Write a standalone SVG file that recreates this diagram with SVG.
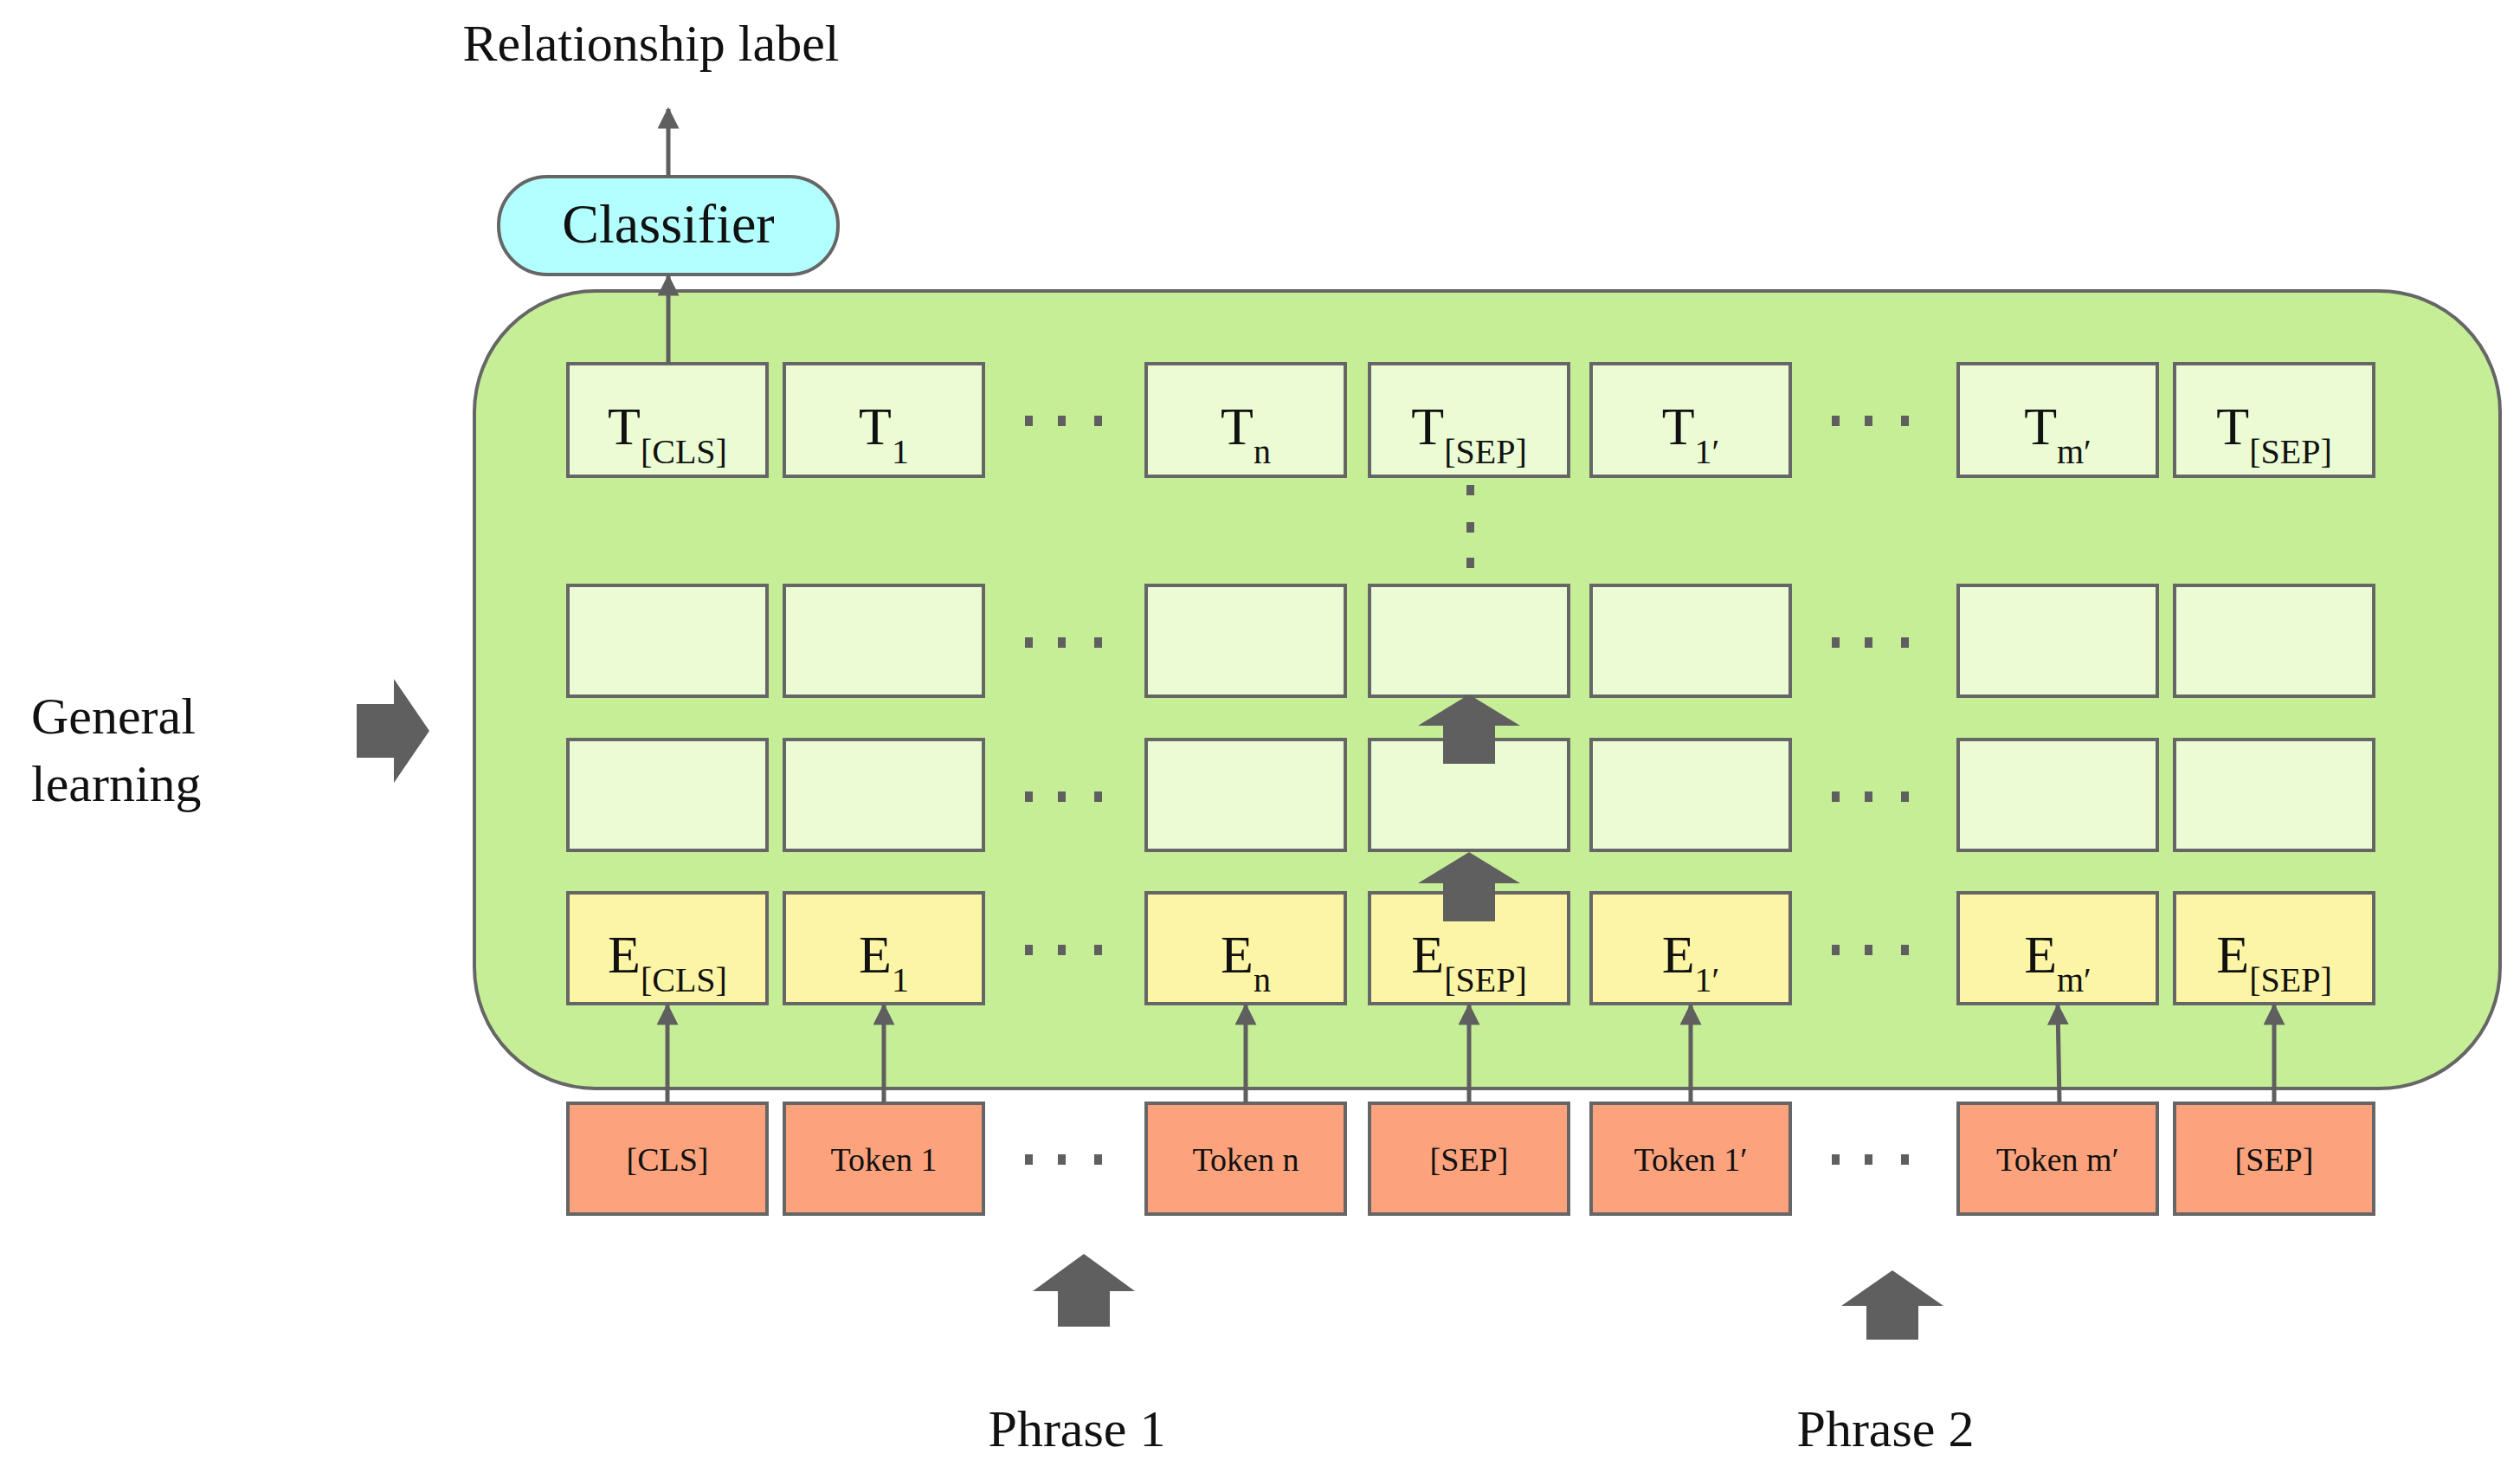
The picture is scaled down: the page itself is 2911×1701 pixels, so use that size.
<svg xmlns="http://www.w3.org/2000/svg" width="2911" height="1701" viewBox="0 0 2911 1701">
<defs>
<style>
.b{stroke:#666;stroke-width:4}
.t{fill:#ebfcd5}.e{fill:#fdf5a6}.k{fill:#fca37d}
text{font-family:"Liberation Serif",serif;fill:#111}
.lab{font-size:62px;text-anchor:middle}
.sub{font-size:40px}
.tok{font-size:38px;text-anchor:middle}
.big{font-size:60px}
.ln{stroke:#5f5f5f;stroke-width:5;fill:none}
.fat{fill:#5f5f5f}
.d{fill:#5f5f5f}
</style>
<marker id="ah" viewBox="0 0 10 10" refX="9" refY="5" markerWidth="5" markerHeight="5" orient="auto" markerUnits="strokeWidth"><path d="M0,0L10,5L0,10z" fill="#5f5f5f"/></marker>
</defs>
<rect width="2911" height="1701" fill="#fff"/>
<g id="encoder"><rect x="548" y="336" width="2340" height="921" rx="140" fill="#c6ee97" class="b"/></g>
<g id="classifier"><rect x="576" y="204" width="392" height="113" rx="56" fill="#b3ffff" class="b"/><text x="772" y="280" class="lab" style="font-size:64px">Classifier</text></g>
<g id="rowT">
<rect x="656" y="420" width="230" height="130" class="t b"/><text x="771" y="513" class="lab">T<tspan class="sub" dy="22">[CLS]</tspan></text>
<rect x="906" y="420" width="230" height="130" class="t b"/><text x="1021" y="513" class="lab">T<tspan class="sub" dy="22">1</tspan></text>
<rect x="1324" y="420" width="230" height="130" class="t b"/><text x="1439" y="513" class="lab">T<tspan class="sub" dy="22">n</tspan></text>
<rect x="1582" y="420" width="230" height="130" class="t b"/><text x="1697" y="513" class="lab">T<tspan class="sub" dy="22">[SEP]</tspan></text>
<rect x="1838" y="420" width="230" height="130" class="t b"/><text x="1953" y="513" class="lab">T<tspan class="sub" dy="22">1′</tspan></text>
<rect x="2262" y="420" width="230" height="130" class="t b"/><text x="2377" y="513" class="lab">T<tspan class="sub" dy="22">m′</tspan></text>
<rect x="2512" y="420" width="230" height="130" class="t b"/><text x="2627" y="513" class="lab">T<tspan class="sub" dy="22">[SEP]</tspan></text>
</g>
<g id="row2">
<rect x="656" y="676" width="230" height="128" class="t b"/><rect x="906" y="676" width="230" height="128" class="t b"/><rect x="1324" y="676" width="230" height="128" class="t b"/><rect x="1582" y="676" width="230" height="128" class="t b"/><rect x="1838" y="676" width="230" height="128" class="t b"/><rect x="2262" y="676" width="230" height="128" class="t b"/><rect x="2512" y="676" width="230" height="128" class="t b"/>
</g>
<g id="row3">
<rect x="656" y="854" width="230" height="128" class="t b"/><rect x="906" y="854" width="230" height="128" class="t b"/><rect x="1324" y="854" width="230" height="128" class="t b"/><rect x="1582" y="854" width="230" height="128" class="t b"/><rect x="1838" y="854" width="230" height="128" class="t b"/><rect x="2262" y="854" width="230" height="128" class="t b"/><rect x="2512" y="854" width="230" height="128" class="t b"/>
</g>
<g id="rowE">
<rect x="656" y="1031" width="230" height="128" class="e b"/><text x="771" y="1123" class="lab">E<tspan class="sub" dy="22">[CLS]</tspan></text>
<rect x="906" y="1031" width="230" height="128" class="e b"/><text x="1021" y="1123" class="lab">E<tspan class="sub" dy="22">1</tspan></text>
<rect x="1324" y="1031" width="230" height="128" class="e b"/><text x="1439" y="1123" class="lab">E<tspan class="sub" dy="22">n</tspan></text>
<rect x="1582" y="1031" width="230" height="128" class="e b"/><text x="1697" y="1123" class="lab">E<tspan class="sub" dy="22">[SEP]</tspan></text>
<rect x="1838" y="1031" width="230" height="128" class="e b"/><text x="1953" y="1123" class="lab">E<tspan class="sub" dy="22">1′</tspan></text>
<rect x="2262" y="1031" width="230" height="128" class="e b"/><text x="2377" y="1123" class="lab">E<tspan class="sub" dy="22">m′</tspan></text>
<rect x="2512" y="1031" width="230" height="128" class="e b"/><text x="2627" y="1123" class="lab">E<tspan class="sub" dy="22">[SEP]</tspan></text>
</g>
<g id="tokens">
<rect x="656" y="1274" width="230" height="128" class="k b"/><text x="771" y="1352" class="tok">[CLS]</text>
<rect x="906" y="1274" width="230" height="128" class="k b"/><text x="1021" y="1352" class="tok">Token 1</text>
<rect x="1324" y="1274" width="230" height="128" class="k b"/><text x="1439" y="1352" class="tok">Token n</text>
<rect x="1582" y="1274" width="230" height="128" class="k b"/><text x="1697" y="1352" class="tok">[SEP]</text>
<rect x="1838" y="1274" width="230" height="128" class="k b"/><text x="1953" y="1352" class="tok">Token 1′</text>
<rect x="2262" y="1274" width="230" height="128" class="k b"/><text x="2377" y="1352" class="tok">Token m′</text>
<rect x="2512" y="1274" width="230" height="128" class="k b"/><text x="2627" y="1352" class="tok">[SEP]</text>
</g>
<g id="dots">
<g id="d1"><rect x="1184" y="480" width="9" height="12" class="d"/><rect x="1222" y="480" width="9" height="12" class="d"/><rect x="1264" y="480" width="9" height="12" class="d"/></g>
<use href="#d1" y="256"/><use href="#d1" y="434"/><use href="#d1" y="611"/><use href="#d1" y="853"/>
<use href="#d1" x="932"/><use href="#d1" x="932" y="256"/><use href="#d1" x="932" y="434"/><use href="#d1" x="932" y="611"/><use href="#d1" x="932" y="853"/>
<rect x="1694" y="560" width="9" height="12" class="d"/><rect x="1694" y="603" width="9" height="12" class="d"/><rect x="1694" y="644" width="9" height="12" class="d"/>
</g>
<g id="connectors">
<line x1="772" y1="204" x2="772" y2="126" class="ln" marker-end="url(#ah)"/>
<line x1="772" y1="420" x2="772" y2="319" class="ln" marker-end="url(#ah)"/>
<line x1="771" y1="1274" x2="771" y2="1161" class="ln" marker-end="url(#ah)"/>
<line x1="1021" y1="1274" x2="1021" y2="1161" class="ln" marker-end="url(#ah)"/>
<line x1="1439" y1="1274" x2="1439" y2="1161" class="ln" marker-end="url(#ah)"/>
<line x1="1697" y1="1274" x2="1697" y2="1161" class="ln" marker-end="url(#ah)"/>
<line x1="1953" y1="1274" x2="1953" y2="1161" class="ln" marker-end="url(#ah)"/>
<line x1="2379" y1="1274" x2="2377" y2="1161" class="ln" marker-end="url(#ah)"/>
<line x1="2627" y1="1274" x2="2627" y2="1161" class="ln" marker-end="url(#ah)"/>
<path class="fat" d="M1697,802 L1756,838 L1727,838 L1727,882 L1667,882 L1667,838 L1638,838 Z"/>
<path class="fat" d="M1697,984 L1756,1020 L1727,1020 L1727,1064 L1667,1064 L1667,1020 L1638,1020 Z"/>
<path class="fat" d="M1252,1448 L1311,1491 L1282,1491 L1282,1532 L1222,1532 L1222,1491 L1193,1491 Z"/>
<path class="fat" d="M2186,1467 L2245,1508 L2216,1508 L2216,1547 L2156,1547 L2156,1508 L2127,1508 Z"/>
<path class="fat" d="M412,813 L455,813 L455,784 L496,844 L455,904 L455,875 L412,875 Z"/>
</g>
<g id="labels">
<text x="752" y="70" class="big" text-anchor="middle">Relationship label</text>
<text x="36" y="847" class="big">General</text>
<text x="36" y="925" class="big">learning</text>
<text x="1244" y="1670" class="big" text-anchor="middle">Phrase 1</text>
<text x="2178" y="1670" class="big" text-anchor="middle">Phrase 2</text>
</g>
</svg>
